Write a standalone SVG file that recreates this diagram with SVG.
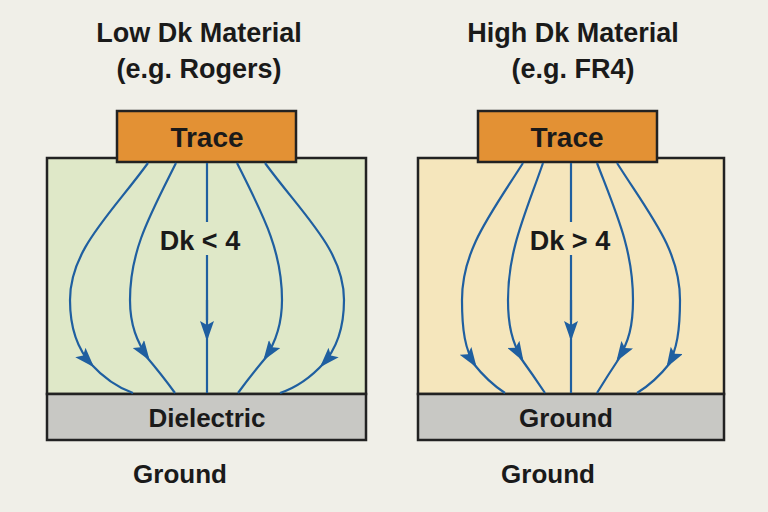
<svg xmlns="http://www.w3.org/2000/svg" width="768" height="512" viewBox="0 0 768 512">
<defs>
<marker id="a" viewBox="0 0 20 14" refX="17" refY="7" markerWidth="20" markerHeight="14" orient="auto" markerUnits="userSpaceOnUse">
<path d="M0,0 L20,7 L0,14 L4,7 Z" fill="#1f5fa0"/>
</marker>
</defs>
<style>
.t{font-family:"Liberation Sans",Arial,sans-serif;font-weight:bold;fill:#1a1a1a;text-anchor:middle}
.box{stroke:#222;stroke-width:2.5}
.f{fill:none;stroke:#1f5fa0;stroke-width:2.2}
</style>
<rect width="768" height="512" fill="#f0efe8"/>
<text class="t" x="199" y="42" font-size="27">Low Dk Material</text>
<text class="t" x="199" y="78" font-size="27">(e.g. Rogers)</text>
<text class="t" x="573" y="42" font-size="27">High Dk Material</text>
<text class="t" x="573" y="78" font-size="27">(e.g. FR4)</text>
<g id="left">
<rect class="box" x="47" y="158" width="319" height="236" fill="#dfe8c8"/>
<rect class="box" x="47" y="394" width="319" height="46" fill="#c8c8c4"/>
<text class="t" x="207" y="427" font-size="26">Dielectric</text>
<rect class="box" x="117" y="111" width="179" height="51" fill="#e39134"/>
<text class="t" x="207" y="147" font-size="28">Trace</text>
</g>
<g id="right">
<rect class="box" x="418" y="158" width="306" height="236" fill="#f5e6bc"/>
<rect class="box" x="418" y="394" width="306" height="46" fill="#c8c8c4"/>
<text class="t" x="566" y="427" font-size="26">Ground</text>
<rect class="box" x="478" y="111" width="179" height="51" fill="#e39134"/>
<text class="t" x="567" y="147" font-size="28">Trace</text>
</g>
<g id="connectors">
<path class="f" marker-end="url(#a)" d="M148,163 C110,215 70,250 70,300 C70,330 78,350 92,365"/>
<path class="f" d="M90,363 Q110,385 133,393"/>
<path class="f" marker-end="url(#a)" d="M176,163 C150,215 130,250 130,300 C130,325 137,342 148,358"/>
<path class="f" d="M145,355 Q162,375 175,393"/>
<path class="f" d="M207,163 V222 M207,255 V320"/>
<path class="f" marker-end="url(#a)" d="M207,300 V338"/>
<path class="f" d="M207,330 V393"/>
<path class="f" marker-end="url(#a)" d="M237,163 C263,215 282,250 282,300 C282,325 276,342 265,358"/>
<path class="f" d="M268,355 Q251,375 238,393"/>
<path class="f" marker-end="url(#a)" d="M265,163 C303,215 344,250 344,300 C344,330 336,350 322,365"/>
<path class="f" d="M324,363 Q304,385 280,393"/>

<path class="f" marker-end="url(#a)" d="M523,163 C490,215 462,250 462,300 C462,330 465,350 475,365"/>
<path class="f" d="M473,363 Q488,382 505,393"/>
<path class="f" marker-end="url(#a)" d="M543,163 C525,215 508,250 508,300 C508,325 512,342 522,359"/>
<path class="f" d="M520,357 Q533,375 545,393"/>
<path class="f" d="M571,163 V222 M571,255 V320"/>
<path class="f" marker-end="url(#a)" d="M571,300 V338"/>
<path class="f" d="M571,330 V393"/>
<path class="f" marker-end="url(#a)" d="M597,163 C617,215 633,250 633,300 C633,325 629,342 618,359"/>
<path class="f" d="M620,357 Q608,375 597,393"/>
<path class="f" marker-end="url(#a)" d="M617,163 C650,215 680,250 680,300 C680,330 677,350 668,365"/>
<path class="f" d="M670,363 Q655,382 637,393"/>
</g>
<text class="t" x="200" y="250" font-size="27">Dk &lt; 4</text>
<text class="t" x="570" y="250" font-size="27">Dk &gt; 4</text>
<text class="t" x="180" y="483" font-size="26">Ground</text>
<text class="t" x="548" y="483" font-size="26">Ground</text>
</svg>
